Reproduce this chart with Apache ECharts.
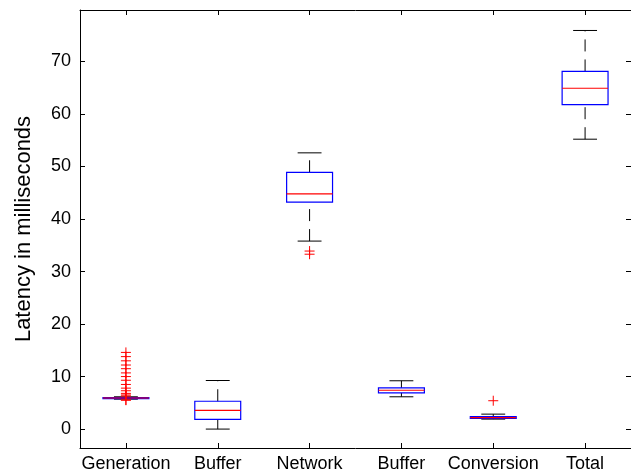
<!DOCTYPE html>
<html>
<head>
<meta charset="utf-8">
<script src="https://cdn.jsdelivr.net/npm/echarts@6/dist/echarts.min.js"></script>
<style>
  html, body { margin: 0; padding: 0; background: #fff; }
  #chart { width: 631px; height: 475px; }
</style>
</head>
<body>
<div id="chart"></div>
<script>
const categories = ['Generation', 'Buffer', 'Network', 'Buffer', 'Conversion', 'Total'];
const whiskerLow  = [5.7, 0.0, 35.8, 6.15, 1.9, 55.2];
const quartile1   = [5.82, 1.85, 43.2, 6.9, 2.05, 61.8];
const medians     = [5.92, 3.55, 44.8, 7.4, 2.2, 64.9];
const quartile3   = [6.02, 5.3, 48.9, 7.85, 2.4, 68.1];
const whiskerHigh = [6.15, 9.25, 52.6, 9.2, 2.85, 75.9];
const generationOutliers = [14.6, 13.8, 13.0, 12.2, 11.5, 10.7, 10.0, 9.3, 8.5, 7.8, 7.3, 6.8, 6.5, 6.3, 5.55, 5.5];
const networkOutliers = [33.9, 33.3];
const conversionOutliers = [5.4];
const yTicks = [0, 10, 20, 30, 40, 50, 60, 70];

const boxData = categories.map((c, i) => [i, whiskerLow[i], quartile1[i], medians[i], quartile3[i], whiskerHigh[i]]);
const outlierData = []
generationOutliers.forEach(v => outlierData.push([0, v]))
networkOutliers.forEach(v => outlierData.push([2, v]))
conversionOutliers.forEach(v => outlierData.push([4, v]))

const font = '"Liberation Sans", Arial, Helvetica, sans-serif'

function renderBox(params, api) {
    const x = api.value(0)
    const lo = api.coord([x, api.value(1)])
    const q1 = api.coord([x, api.value(2)])
    const md = api.coord([x, api.value(3)])
    const q3 = api.coord([x, api.value(4)])
    const hi = api.coord([x, api.value(5)])
    const band = api.size([1, 0])[0]
    const half = band * 0.25
    const cap = band * 0.13
    const cx = lo[0]
    const dash = { stroke: '#000', lineWidth: 1, lineDash: [12, 8] }
    const solid = { stroke: '#000', lineWidth: 1 }
    return {
        type: 'group',
        children: [
            { type: 'line', shape: { x1: cx, y1: q3[1], x2: cx, y2: hi[1] }, style: dash },
            { type: 'line', shape: { x1: cx, y1: lo[1], x2: cx, y2: q1[1] }, style: dash },
            { type: 'line', shape: { x1: cx - cap, y1: hi[1], x2: cx + cap, y2: hi[1] }, style: solid },
            { type: 'line', shape: { x1: cx - cap, y1: lo[1], x2: cx + cap, y2: lo[1] }, style: solid },
            {
                type: 'rect',
                shape: { x: cx - half, y: q3[1], width: half * 2, height: q1[1] - q3[1] },
                style: { fill: 'none', stroke: '#0000ff', lineWidth: 1.2 }
            },
            { type: 'line', shape: { x1: cx - half, y1: md[1], x2: cx + half, y2: md[1] }, style: { stroke: '#ff0000', lineWidth: 1.2 } }
        ]
    }
}

function renderOutlier(params, api) {
    const p = api.coord([api.value(0), api.value(1)])
    const s = 5
    const st = { stroke: '#ff0000', lineWidth: 1 }
    return {
        type: 'group',
        children: [
            { type: 'line', shape: { x1: p[0] - s, y1: p[1], x2: p[0] + s, y2: p[1] }, style: st },
            { type: 'line', shape: { x1: p[0], y1: p[1] - s, x2: p[0], y2: p[1] + s }, style: st }
        ]
    }
}

const chart = echarts.init(document.getElementById('chart'))
const axisLine = { show: true, onZero: false, lineStyle: { color: '#000', width: 1 } }
const tick = { show: true, inside: true, length: 5, lineStyle: { color: '#000' } }

chart.setOption({
    animation: false,
    backgroundColor: '#fff',
    grid: { left: 80, top: 10, width: 554, height: 438 },
    xAxis: [
        {
            type: 'category',
            data: categories,
            position: 'bottom',
            axisLine: axisLine,
            axisTick: Object.assign({ alignWithLabel: true }, tick),
            axisLabel: { color: '#000', fontSize: 18, fontFamily: font, margin: 7, interval: 0 },
            splitLine: { show: false }
        },
        {
            type: 'category',
            data: categories,
            position: 'top',
            axisLine: axisLine,
            axisTick: Object.assign({ alignWithLabel: true }, tick),
            axisLabel: { show: false },
            splitLine: { show: false }
        }
    ],
    yAxis: [
        {
            type: 'value',
            min: -3.6,
            max: 79.8,
            position: 'left',
            name: 'Latency in milliseconds',
            nameLocation: 'middle',
            nameGap: 45,
            nameTextStyle: { color: '#000', fontSize: 22, fontFamily: font },
            axisLine: axisLine,
            axisTick: Object.assign({ customValues: yTicks }, tick),
            axisLabel: { color: '#000', fontSize: 18, fontFamily: font, margin: 9, customValues: yTicks },
            splitLine: { show: false }
        },
        {
            type: 'value',
            min: -3.6,
            max: 79.8,
            position: 'right',
            axisLine: axisLine,
            axisTick: Object.assign({ customValues: yTicks }, tick),
            axisLabel: { show: false },
            splitLine: { show: false }
        }
    ],
    series: [
        {
            type: 'custom',
            renderItem: renderBox,
            data: boxData,
            encode: { x: 0, y: [1, 2, 3, 4, 5] },
            clip: false
        },
        {
            type: 'custom',
            renderItem: renderOutlier,
            data: outlierData,
            encode: { x: 0, y: 1 },
            clip: false
        }
    ]
})
window.addEventListener('resize', () => {
    chart.resize()
})
</script>
</body>
</html>
